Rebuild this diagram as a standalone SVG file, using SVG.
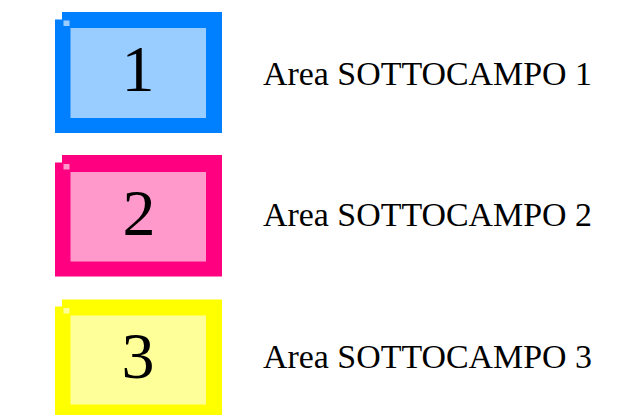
<svg xmlns="http://www.w3.org/2000/svg" width="627" height="415" viewBox="0 0 627 415">
  <style>
    .digit { font-family: "Liberation Serif", "Times New Roman", serif; font-size: 66px; fill: #000; text-anchor: middle; }
    .label { font-family: "Liberation Serif", "Times New Roman", serif; font-size: 34px; fill: #000; }
    .b1o { fill: #0080FF; } .b1i { fill: #99CCFF; }
    .b2o { fill: #FF0080; } .b2i { fill: #FF99CC; }
    .b3o { fill: #FFFF00; } .b3i { fill: #FFFF99; }
  </style>
  <rect width="627" height="415" fill="#FFFFFF"/>
  <g id="node1">
    <path class="b1o" d="M62,12 H222 V133 H55 V19.5 H62 Z"/>
    <rect class="b1i" x="70.5" y="28" width="135.5" height="90"/>
    <rect class="b1i" x="63.5" y="20.5" width="6" height="5.5"/>
    <text class="digit" x="138" y="91">1</text>
  </g>
  <g id="label1">
    <text class="label" x="263" y="85" textLength="329" lengthAdjust="spacingAndGlyphs">Area SOTTOCAMPO 1</text>
  </g>
  <g id="node2">
    <path class="b2o" d="M62,155 H222 V276.5 H55 V162.5 H62 Z"/>
    <rect class="b2i" x="70.5" y="172" width="135.5" height="89.5"/>
    <rect class="b2i" x="63.5" y="164" width="6" height="5.5"/>
    <text class="digit" x="139" y="235">2</text>
  </g>
  <g id="label2">
    <text class="label" x="263" y="226" textLength="329" lengthAdjust="spacingAndGlyphs">Area SOTTOCAMPO 2</text>
  </g>
  <g id="node3">
    <path class="b3o" d="M62,299.5 H222 V415 H55 V306.5 H62 Z"/>
    <rect class="b3i" x="70.5" y="315.5" width="135.5" height="89"/>
    <rect class="b3i" x="63.5" y="308" width="6" height="5.5"/>
    <text class="digit" x="138" y="378">3</text>
  </g>
  <g id="label3">
    <text class="label" x="263" y="368" textLength="329" lengthAdjust="spacingAndGlyphs">Area SOTTOCAMPO 3</text>
  </g>
  <g id="connectors"/>
</svg>
